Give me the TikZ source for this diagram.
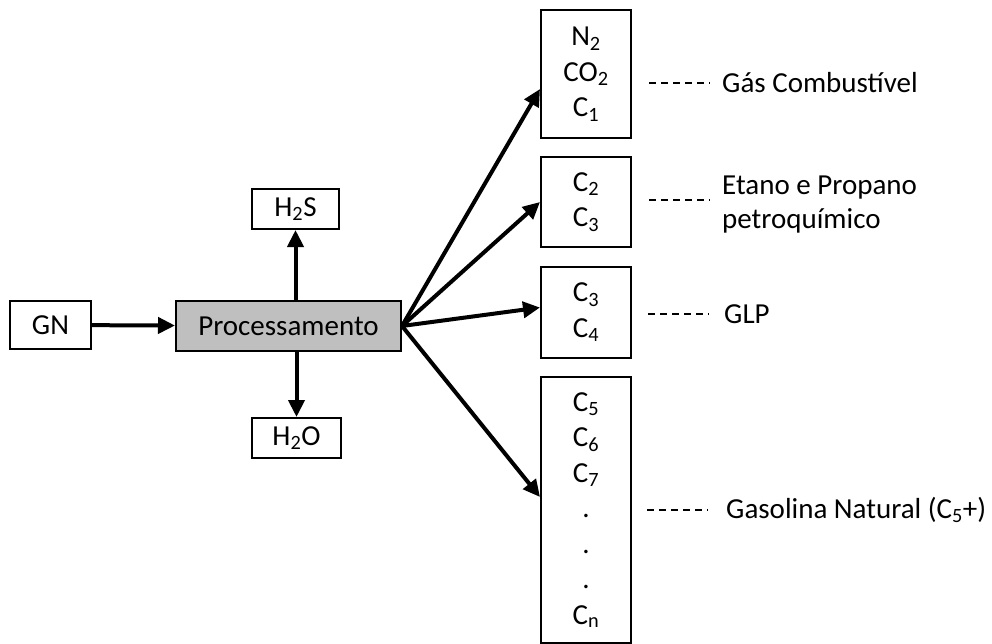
\documentclass[tikz,border=0pt]{standalone}
\usepackage{fontspec}
\setmainfont{Carlito}
\usetikzlibrary{arrows.meta}
\tikzset{
  box/.style={draw, line width=2pt, inner sep=0pt, align=center, font=\fontsize{29}{35.5}\selectfont},
  arrow/.style={line width=4pt, -{Triangle[length=17pt,width=16pt]}},
  dashline/.style={line width=1.6pt, dash pattern=on 7pt off 5pt},
  lbl/.style={anchor=west, align=left, inner sep=0pt, font=\fontsize{29}{34}\selectfont}
}

\begin{document}
\begin{tikzpicture}[x=1pt,y=-1pt]
\useasboundingbox (0,0) rectangle (992,644);
% entrada e processamento
\node[box, minimum width=81pt, minimum height=48pt] (gn) at (50.5,325) {GN};
\node[box, fill=gray!50, minimum width=225pt, minimum height=50pt] (proc) at (288.5,326) {Processamento};
\node[box, minimum width=87pt, minimum height=40pt] (h2s) at (295.5,209) {H\textsubscript{2}S};
\node[box, minimum width=89pt, minimum height=40pt] (h2o) at (296.5,438) {H\textsubscript{2}O};
\draw[arrow] (gn) -- (proc);
\draw[arrow] (h2s.south |- proc.north) -- (h2s.south);
\draw[arrow] (h2o.north |- proc.south) -- (h2o.north);
% fracoes
\node[box, minimum width=90pt, minimum height=128pt] (b1) at (586,74) {N\textsubscript{2}\\CO\textsubscript{2}\\C\textsubscript{1}};
\node[box, minimum width=90pt, minimum height=90pt] (b2) at (586,202) {C\textsubscript{2}\\C\textsubscript{3}};
\node[box, minimum width=90pt, minimum height=91pt] (b3) at (586,312.5) {C\textsubscript{3}\\C\textsubscript{4}};
\node[box, minimum width=90pt, minimum height=266pt] (b4) at (586,510) {C\textsubscript{5}\\C\textsubscript{6}\\C\textsubscript{7}\\.\\.\\.\\C\textsubscript{n}};
\draw[arrow] (proc.east) -- ([yshift=-15pt]b1.west);
\draw[arrow] (proc.east) -- (b2.west);
\draw[arrow] (proc.east) -- ([yshift=5pt]b3.west);
\draw[arrow] (proc.east) -- ([yshift=13pt]b4.west);
% produtos
\node[lbl] (gas) at (722,83) {Gás Combustível};
\node[lbl] (etano) at (722,205) {Etano e Propano\\petroquímico};
\node[lbl] (glp) at (724,314) {GLP};
\node[lbl] (gasol) at (726,510) {Gasolina Natural (C\textsubscript{5}+)};
\draw[dashline] ([xshift=-73pt]gas.west) -- ([xshift=-12pt]gas.west);
\draw[dashline] ([xshift=-73pt]etano.west |- 0,200) -- ([xshift=-12pt]etano.west |- 0,200);
\draw[dashline] ([xshift=-76pt]glp.west) -- ([xshift=-15pt]glp.west);
\draw[dashline] ([xshift=-79pt]gasol.west) -- ([xshift=-18pt]gasol.west);
\end{tikzpicture}
\end{document}
